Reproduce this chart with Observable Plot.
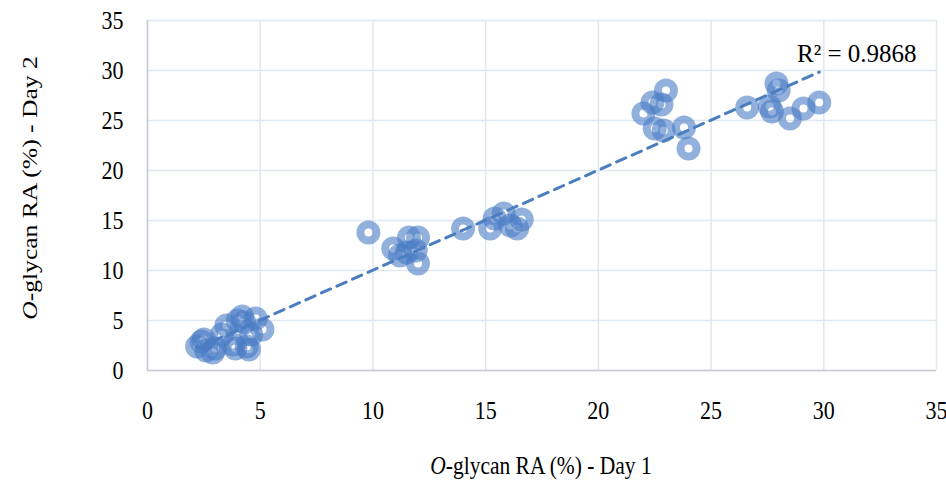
<!DOCTYPE html>
<html>
<head>
<meta charset="utf-8">
<script src="https://cdn.jsdelivr.net/npm/d3@7"></script>
<script src="https://cdn.jsdelivr.net/npm/@observablehq/plot@0.6"></script>
<style>
  body { margin: 0; background: #fff; }
  svg { font-family: "Liberation Serif", "Times New Roman", serif; }
</style>
</head>
<body>
<div id="chart"></div>
<script>
const day1 = [
  2.2, 2.4, 2.5, 2.6, 2.9, 3.0, 3.3, 3.5, 3.8, 3.9, 4.0, 4.2, 4.3, 4.5, 4.6, 4.8, 5.1, 4.4,
  9.8, 10.9, 11.2, 11.6, 12.0, 11.5, 11.9, 12.0,
  14.0, 15.2, 15.4, 15.8, 16.1, 16.4, 16.6,
  22.0, 22.4, 22.8, 23.0, 22.5, 22.9, 23.8, 24.0,
  26.6, 27.6, 27.7, 27.9, 28.0, 28.5, 29.1, 29.8
];
const day2 = [
  2.4, 2.9, 3.1, 2.0, 1.8, 2.2, 3.6, 4.5, 2.6, 2.2, 5.0, 5.4, 4.8, 2.1, 3.6, 5.2, 4.1, 2.4,
  13.8, 12.2, 11.5, 13.3, 13.3, 11.8, 12.0, 10.7,
  14.2, 14.2, 15.2, 15.7, 14.5, 14.2, 15.1,
  25.7, 26.8, 26.6, 28.0, 24.2, 24.0, 24.3, 22.2,
  26.3, 26.4, 25.9, 28.7, 28.0, 25.2, 26.2, 26.8
];
const ticks = [0, 5, 10, 15, 20, 25, 30, 35];
const r2Label = "R² = 0.9868";
const xTitle = ["O", "-glycan RA (%) - Day 1"];
const yTitle = ["O", "-glycan RA (%) - Day 2"];

const data = day1.map((x, i) => ({x, y: day2[i]}));

const W = 946, H = 481;
const STRETCH = 1.19;
const plot = Plot.plot({
  width: W,
  height: H,
  marginLeft: 147,
  marginRight: 10,
  marginTop: 20,
  marginBottom: 111,
  style: {fontFamily: '"Liberation Serif", "Times New Roman", serif', fontSize: "22px", color: "#000", background: "#fff"},
  x: {domain: [0, 35], ticks, tickSize: 0, label: null},
  y: {domain: [0, 35], ticks, tickSize: 0, label: null},
  marks: [
    Plot.gridX(ticks, {stroke: "#dfe7f1", strokeOpacity: 1, strokeWidth: 1.5}),
    Plot.gridY(ticks, {stroke: "#dfe7f1", strokeOpacity: 1, strokeWidth: 1.5}),
    Plot.ruleX([0], {stroke: "#c8ccd2", strokeWidth: 1.5}),
    Plot.ruleY([0], {stroke: "#c8ccd2", strokeWidth: 1.5}),
    Plot.axisX({ticks, tickSize: 0, tickPadding: 30, fontSize: 22, label: null, tickFormat: d => String(d), className: "xax"}),
    Plot.axisY({ticks, tickSize: 0, tickPadding: 24, fontSize: 22, label: null, tickFormat: d => String(d), className: "yax"}),
    Plot.dot(data, {x: "x", y: "y", r: 8, fill: "none", stroke: "#4a7cc4", strokeOpacity: 0.6, strokeWidth: 8}),
    Plot.linearRegressionY(data, {x: "x", y: "y", ci: 0, stroke: "#4a7ebf", strokeWidth: 3, strokeDasharray: "10,7"}),
    Plot.text([r2Label], {frameAnchor: "top-right", dx: -20, dy: 24, fontSize: 25, textAnchor: "end", fill: "#000", className: "r2"})
  ]
});

const svg = d3.select(plot);
// vertical stretch of tick labels, as in the reference
svg.selectAll("g[aria-label='x-axis tick label'] text, g[aria-label='y-axis tick label'] text, .xax text, .yax text").each(function() {
  const t = d3.select(this);
  const tr = t.attr("transform") || "";
  if (!/scale/.test(tr)) t.attr("transform", tr + ` scale(1,${STRETCH})`);
});
function addTitle(parts, x, y, rotate) {
  const t = svg.append("text")
    .attr("text-anchor", "middle")
    .attr("font-size", 21.5)
    .attr("fill", "#000")
    .attr("transform", rotate ? `translate(${x},${y}) scale(1,${STRETCH}) rotate(-90)` : `translate(${x},${y}) scale(1,${STRETCH})`);
  t.append("tspan").attr("font-style", "italic").text(parts[0]);
  t.append("tspan").text(parts[1]);
}
addTitle(xTitle, 541, 474, false);
addTitle(yTitle, 37, 188, true);

document.getElementById("chart").appendChild(plot);
</script>
</body>
</html>
